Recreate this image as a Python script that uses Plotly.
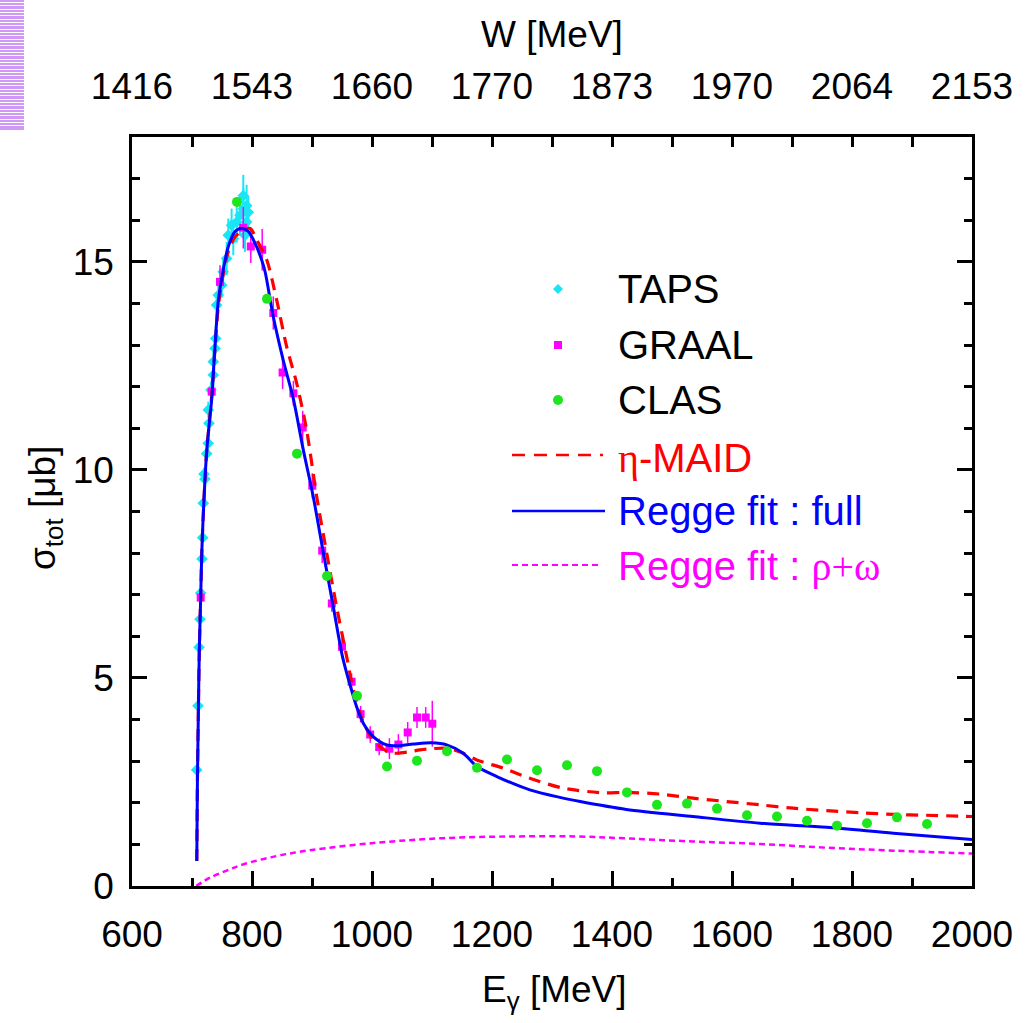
import plotly.graph_objects as go

# ---------------- data ----------------
taps_E = [707.8, 710, 711.7, 713.3, 714.5, 716.7, 717.8, 718.8, 720, 721.5, 724.5, 727, 728.3, 727.2,
          731.7, 735.5, 735.5, 738.3, 739.5, 741, 743.8, 749.5, 752, 757.8, 760.5, 766, 768.8,
          774.5, 780, 785.5, 785.5, 791, 793.8, 791, 788.3]
taps_s = [2.79, 4.33, 5.74, 6.41, 7.04, 7.86, 8.37, 9.2, 9.9, 9.78, 10.39, 10.64, 11.12, 11.44,
          11.92, 12.28, 12.6, 12.92, 13.16, 13.96, 14.2, 14.44, 14.76, 15.08, 15.64, 15.88, 15.56,
          15.96, 16.12, 16.27, 16.59, 16.35, 16.19, 15.96, 15.64]
taps_err = [0.05, 0.08, 0.1, 0.1, 0.1, 0.1, 0.1, 0.12, 0.15, 0.15, 0.15, 0.2, 0.2, 0.2,
            0.2, 0.3, 0.3, 0.3, 0.3, 0.3, 0.3, 0.3, 0.35, 0.4, 0.4, 0.4, 0.4,
            0.5, 0.5, 0.5, 0.5, 0.5, 0.4, 0.4, 0.4]

graal_E = [714.5, 732.8, 746.7, 785.5, 798, 817, 835.5, 851, 869, 884.5, 900.5, 917, 933, 950,
           966, 981, 997, 1012, 1029, 1044, 1059.5, 1075, 1089.5, 1100.5]
graal_s = [6.93, 11.88, 14.52, 15.82, 15.37, 15.29, 13.77, 12.34, 11.84, 11.02, 9.62, 8.06, 6.79, 5.75,
           4.91, 4.13, 3.64, 3.34, 3.30, 3.40, 3.69, 4.05, 4.05, 3.90]
graal_err = [0.1, 0.3, 0.4, 0.5, 0.4, 0.5, 0.4, 0.4, 0.3, 0.4, 0.3, 0.3, 0.2, 0.2,
             0.2, 0.2, 0.2, 0.2, 0.25, 0.25, 0.25, 0.25, 0.25, 0.55]

clas_E = [775, 825, 875, 925, 975, 1025, 1075, 1125, 1175, 1225, 1275, 1325, 1375, 1425, 1475,
          1525, 1575, 1625, 1675, 1725, 1775, 1825, 1875, 1925]
clas_s = [16.44, 14.11, 10.39, 7.45, 4.57, 2.87, 3.01, 3.24, 2.84, 3.04, 2.78, 2.90, 2.76, 2.25, 1.95,
          1.98, 1.86, 1.70, 1.67, 1.57, 1.45, 1.51, 1.65, 1.49]

maid_E = [708, 709, 710.5, 712.2, 714.5, 716.5, 720, 724.5, 728, 733, 738.3, 744, 752, 760.5, 771.7,
          785.5, 797, 807.8, 824.5, 841, 857.8, 874.5, 891, 907.8, 924.5, 941, 957.8, 969, 985, 1000,
          1013, 1030, 1041, 1060, 1080, 1100, 1124.5, 1150, 1174.5, 1219, 1263, 1319, 1385, 1424,
          1480, 1535, 1591, 1647, 1702, 1758, 1813, 1869, 1924, 1980, 2000]
maid_s = [0.6, 2.47, 4.07, 5.67, 6.95, 8.1, 9.3, 10.45, 11.0, 11.8, 12.9, 13.95, 14.7, 15.25, 15.6,
          15.77, 15.8, 15.53, 15.05, 14.09, 12.96, 12.08, 10.96, 9.36, 8.0, 6.71, 5.51, 4.71, 3.95, 3.55,
          3.35, 3.2, 3.19, 3.22, 3.27, 3.3, 3.31, 3.2, 3.03, 2.83, 2.59, 2.35, 2.24, 2.25,
          2.21, 2.11, 2.03, 1.95, 1.87, 1.81, 1.76, 1.72, 1.70, 1.68, 1.67]

full_E = [708, 709, 710.5, 712.2, 714.5, 716.5, 720, 724.5, 728, 732.8, 738.3, 744, 752, 760.5, 771.7,
          782.8, 793.8, 805, 816, 822, 835.5, 852, 869, 885.5, 902, 919, 935.5, 951, 963, 974.5, 985.5,
          1002, 1024.5, 1041, 1069, 1099.5, 1124.5, 1152, 1175, 1208, 1263, 1313, 1347, 1424, 1535,
          1647, 1758, 1869, 2000]
full_s = [0.6, 2.47, 4.07, 5.67, 6.95, 8.1, 9.3, 10.45, 11.0, 11.7, 12.96, 14.09, 14.8, 15.37, 15.73,
          15.81, 15.73, 15.45, 15.05, 14.75, 13.68, 12.64, 11.7, 10.48, 9.36, 8.0, 6.71, 5.5, 4.85, 4.3, 3.91,
          3.59, 3.39, 3.37, 3.41, 3.44, 3.39, 3.19, 2.87, 2.63, 2.31, 2.13, 2.03, 1.84, 1.67,
          1.51, 1.41, 1.27, 1.12]

rw_E = [707, 730, 757.8, 785.5, 841, 896.7, 1008, 1119, 1230, 1341, 1430, 1535, 1647, 1758, 1869, 2000]
rw_s = [0.0, 0.2, 0.37, 0.52, 0.72, 0.86, 1.04, 1.15, 1.19, 1.19, 1.14, 1.07, 1.01, 0.92, 0.85, 0.78]

x_ticks = [600, 800, 1000, 1200, 1400, 1600, 1800, 2000]
w_labels = ["1416", "1543", "1660", "1770", "1873", "1970", "2064", "2153"]

legend_names = ["TAPS", "GRAAL", "CLAS",
                "<span style=\"font-family:'Liberation Serif'\">η</span>-MAID",
                "Regge fit : full",
                "Regge fit : <span style=\"font-family:'Liberation Serif'\">ρ+ω</span>"]

# ---------------- styling ----------------
W, H = 1025, 1023
L, R, T, B = 132, 53, 137, 137
PW, PH = W - L - R, H - T - B
FONT = "Liberation Sans, Arial, sans-serif"
C_TAPS, C_GRAAL, C_CLAS = "#19e6f5", "#ff00ff", "#1ee61e"
C_MAID, C_FULL, C_RW = "#ff0000", "#0000ff", "#ff00ff"


def px(x):
    return (x - L) / PW


def py(y):
    return (H - B - y) / PH


fig = go.Figure()
fig.add_trace(go.Scatter(x=taps_E, y=taps_s, mode="markers",
                         marker=dict(symbol="diamond", size=9, color=C_TAPS),
                         error_y=dict(type="data", array=taps_err, width=0, thickness=2, color=C_TAPS)))
fig.add_trace(go.Scatter(x=graal_E, y=graal_s, mode="markers",
                         marker=dict(symbol="square", size=8, color=C_GRAAL),
                         error_y=dict(type="data", array=graal_err, width=0, thickness=1.5, color=C_GRAAL)))
fig.add_trace(go.Scatter(x=rw_E, y=rw_s, mode="lines", line_shape="spline",
                         line=dict(color=C_RW, width=2.5, dash="6px,4px", smoothing=1.0)))
fig.add_trace(go.Scatter(x=maid_E, y=maid_s, mode="lines", line_shape="spline",
                         line=dict(color=C_MAID, width=3.2, dash="12px,8px", smoothing=0.8)))
fig.add_trace(go.Scatter(x=full_E, y=full_s, mode="lines", line_shape="spline",
                         line=dict(color=C_FULL, width=3, smoothing=0.8)))
fig.add_trace(go.Scatter(x=clas_E, y=clas_s, mode="markers",
                         marker=dict(symbol="circle", size=10, color=C_CLAS)))
# anchor trace for the top (W) axis
fig.add_trace(go.Scatter(x=[600, 2000], y=[None, None], xaxis="x2", yaxis="y",
                         mode="markers", hoverinfo="skip"))

axis_common = dict(showgrid=False, zeroline=False, ticks="inside", tickcolor="black",
                   tickwidth=2.5, showline=True, linecolor="black", linewidth=2.5,
                   tickfont=dict(family=FONT, size=37, color="black"))

fig.update_layout(
    width=W, height=H, margin=dict(l=L, r=R, t=T, b=B, autoexpand=False),
    paper_bgcolor="white", plot_bgcolor="white", showlegend=False,
    xaxis=dict(range=[600, 2000], tick0=600, dtick=200, ticklen=15, mirror=True,
               ticklabelstandoff=14,
               minor=dict(dtick=100, tick0=600, ticklen=8, tickwidth=2.5, ticks="inside", tickcolor="black"),
               **axis_common),
    yaxis=dict(range=[0, 18], tick0=0, dtick=5, ticklen=15, mirror="ticks",
               ticklabelstandoff=8,
               minor=dict(dtick=1, tick0=0, ticklen=8, tickwidth=2.5, ticks="inside", tickcolor="black"),
               **axis_common),
    xaxis2=dict(range=[600, 2000], overlaying="x", side="top", anchor="y",
                tickmode="array", tickvals=x_ticks, ticktext=w_labels, ticklen=10,
                ticklabelstandoff=20,
                minor=dict(dtick=100, tick0=600, ticklen=10, tickwidth=2.5, ticks="inside", tickcolor="black"),
                **axis_common),
)

ann = []
ann.append(dict(text="W [MeV]", x=0.5, y=py(35), xref="paper", yref="paper", showarrow=False,
                xanchor="center", yanchor="middle", font=dict(family=FONT, size=37, color="black")))
ann.append(dict(text="E<sub>γ</sub> [MeV]", x=px(554), y=py(992), xref="paper", yref="paper", showarrow=False,
                xanchor="center", yanchor="middle", font=dict(family=FONT, size=37, color="black")))
ann.append(dict(text="σ<sub>tot</sub> [μb]", x=px(45), y=py(508), xref="paper", yref="paper", showarrow=False,
                textangle=-90, xanchor="center", yanchor="middle", font=dict(family=FONT, size=37, color="black")))

leg_y = [289, 345, 400, 458, 511, 566]
leg_col = ["black", "black", "black", C_MAID, C_FULL, C_RW]
for name, yy, col in zip(legend_names, leg_y, leg_col):
    ann.append(dict(text=name, x=px(616), y=py(yy), xref="paper", yref="paper", showarrow=False,
                    xanchor="left", yanchor="middle", font=dict(family=FONT, size=40, color=col)))
fig.update_layout(annotations=ann)

shapes = []
# legend symbols
cx = 558
shapes.append(dict(type="path", xref="paper", yref="paper", line=dict(width=0), fillcolor=C_TAPS,
                   path=f"M {px(cx)},{py(289-5)} L {px(cx+5)},{py(289)} L {px(cx)},{py(289+5)} L {px(cx-5)},{py(289)} Z"))
shapes.append(dict(type="rect", xref="paper", yref="paper", line=dict(width=0), fillcolor=C_GRAAL,
                   x0=px(cx-4), x1=px(cx+4), y0=py(345+4), y1=py(345-4)))
shapes.append(dict(type="circle", xref="paper", yref="paper", line=dict(width=0), fillcolor=C_CLAS,
                   x0=px(cx-5), x1=px(cx+5), y0=py(400+5), y1=py(400-5)))
shapes.append(dict(type="line", xref="paper", yref="paper", x0=px(512), x1=px(603), y0=py(455), y1=py(455),
                   line=dict(color=C_MAID, width=2.5, dash="13px,9px")))
shapes.append(dict(type="line", xref="paper", yref="paper", x0=px(512), x1=px(605), y0=py(511), y1=py(511),
                   line=dict(color=C_FULL, width=2.5)))
shapes.append(dict(type="line", xref="paper", yref="paper", x0=px(512), x1=px(600), y0=py(565), y1=py(565),
                   line=dict(color=C_RW, width=2, dash="6px,4px")))

# striped block at top-left corner
shapes.append(dict(type="rect", xref="paper", yref="paper", line=dict(width=0), fillcolor="#cf99f5",
                   x0=px(0), x1=px(24), y0=py(130), y1=py(0), layer="above"))
k = 0
while True:
    yy = 2 + round(k * 3.33)
    if yy > 128:
        break
    shapes.append(dict(type="rect", xref="paper", yref="paper", line=dict(width=0), fillcolor="white",
                       x0=px(0), x1=px(24), y0=py(yy + 1), y1=py(yy), layer="above"))
    k += 1

fig.update_layout(shapes=shapes)
fig.write_html("out.html")
